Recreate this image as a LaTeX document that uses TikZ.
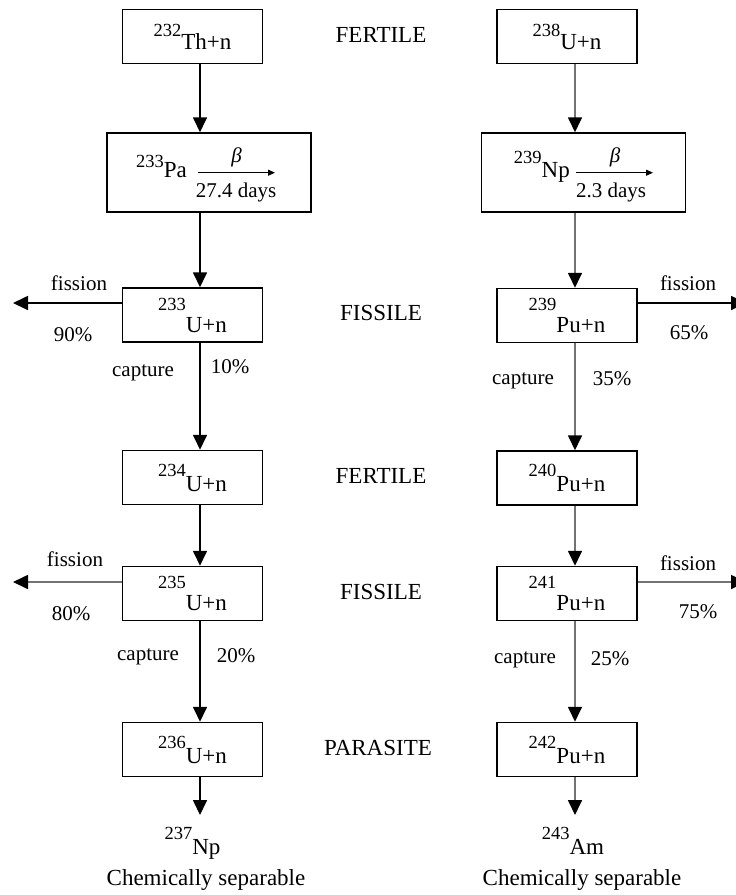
\documentclass[tikz,border=0pt]{standalone}
\usepackage{fontspec}
\setmainfont{Liberation Serif}
\usetikzlibrary{arrows.meta, positioning, calc}
\newcommand{\bigfont}{\fontsize{23}{27}\selectfont}
\newcommand{\notefont}{\fontsize{21}{25}\selectfont}
\newcommand{\iso}[3][13pt]{\raisebox{#1}{\fontsize{18.5}{20}\selectfont #2}#3}
\tikzset{
  nuclide/.style={draw=black, line width=1.5pt, minimum width=140pt, minimum height=54pt, inner sep=0pt, font=\bigfont},
  decaybox/.style={nuclide, minimum width=204pt, minimum height=79pt},
  arrow/.style={-{Triangle[length=15pt, width=14pt, color=black]}, line width=1.7pt},
  faint/.style={draw=black!55},
  betaarrow/.style={-{Triangle[length=7pt, width=6pt]}, line width=1pt},
  role/.style={font=\bigfont, inner sep=0pt},
  note/.style={font=\notefont, inner sep=0pt},
}
\begin{document}
\begin{tikzpicture}[x=1pt, y=-1pt]
  \useasboundingbox (0,0) rectangle (736,895);
  % thorium chain
  \node[nuclide] (th) at (192.5,36.5) {\iso{232}{Th+n}};
  \node[decaybox] (pa) at (209,172.5) {};
  \node[nuclide] (u233) at (192.5,315) {\iso[22pt]{233}{U+n}};
  \node[nuclide] (u234) at (192.5,477.5) {\iso[15pt]{234}{U+n}};
  \node[nuclide] (u235) at (192.5,593.5) {\iso[22pt]{235}{U+n}};
  \node[nuclide] (u236) at (192.5,749.5) {\iso[15pt]{236}{U+n}};
  % uranium chain
  \node[nuclide] (u238) at (567,36.5) {\iso{238}{U+n}};
  \node[decaybox] (np) at (583.5,172.5) {};
  \node[nuclide] (pu239) at (567,315.5) {\iso[22pt]{239}{Pu+n}};
  \node[nuclide] (pu240) at (567,478) {\iso[15pt]{240}{Pu+n}};
  \node[nuclide] (pu241) at (567,593.5) {\iso[22pt]{241}{Pu+n}};
  \node[nuclide] (pu242) at (567,749.5) {\iso[15pt]{242}{Pu+n}};
  % beta decays inside the boxes
  \node[anchor=base east, inner sep=0pt, font=\bigfont] (pa-lbl) at (187,177) {\iso[10pt]{233}{Pa}};
  \coordinate (pa-a) at (198,172.7);
  \coordinate (pa-b) at (275,172.7);
  \draw[betaarrow] (pa-a) -- (pa-b);
  \node[note] (pa-beta) at (236.5,157) {\textit{β}};
  \node[note, anchor=base] (pa-days) at (236,197) {27.4 days};
  \node[anchor=base east, inner sep=0pt, font=\bigfont] (np-lbl) at (570,177) {\iso[14pt]{239}{Np}};
  \coordinate (np-a) at (576,172.7);
  \coordinate (np-b) at (653,172.7);
  \draw[betaarrow] (np-a) -- (np-b);
  \node[note] (np-beta) at (615,157) {\textit{β}};
  \node[note, anchor=base] (np-days) at (611,197) {2.3 days};
  % roles
  \node[role] (fert1) at (381,35) {FERTILE};
  \node[role] (fiss1) at (381,313) {FISSILE};
  \node[role] (fert2) at (381,476) {FERTILE};
  \node[role] (fiss2) at (381,591.5) {FISSILE};
  \node[role] (para) at (378,748) {PARASITE};
  % vertical arrows
  \coordinate (lcol) at (200,0);
  \coordinate (rcol) at (575,0);
  \foreach \a/\b in {th/pa, pa/u233, u233/u234, u234/u235, u235/u236}
    \draw[arrow] (\a.south -| lcol) -- (\b.north -| lcol);
  \foreach \a/\b in {u238/np, np/pu239, pu239/pu240, pu240/pu241, pu241/pu242}
    \draw[arrow, faint] (\a.south -| rcol) -- (\b.north -| rcol);
  \coordinate (lend) at (200,815);
  \coordinate (rend) at (575,815);
  \draw[arrow] (u236.south -| lcol) -- (lend);
  \draw[arrow, faint] (pu242.south -| rcol) -- (rend);
  % fission branches
  \coordinate (fl1) at (13,303);
  \coordinate (fl2) at (13,582);
  \coordinate (fr1) at (746,303);
  \coordinate (fr2) at (746,582);
  \draw[arrow] (u233.west |- fl1) -- (fl1);
  \draw[arrow, faint] (u235.west |- fl2) -- (fl2);
  \draw[arrow] (pu239.east |- fr1) -- (fr1);
  \draw[arrow, faint] (pu241.east |- fr2) -- (fr2);
  % branch labels
  \node[note] (fl1-t) at (79,283) {fission};
  \node[note] (fl1-p) at (73,335) {90\%};
  \node[note] (cl1-t) at (143,373) {capture};
  \node[note] (cl1-p) at (230,367) {10\%};
  \node[note] (fr1-t) at (688,283) {fission};
  \node[note] (fr1-p) at (689,333) {65\%};
  \node[note] (cr1-t) at (523,381) {capture};
  \node[note] (cr1-p) at (612,379) {35\%};
  \node[note] (fl2-t) at (75,559) {fission};
  \node[note] (fl2-p) at (71,614) {80\%};
  \node[note] (cl2-t) at (148,657) {capture};
  \node[note] (cl2-p) at (236,656) {20\%};
  \node[note] (fr2-t) at (688,563) {fission};
  \node[note] (fr2-p) at (698,612) {75\%};
  \node[note] (cr2-t) at (525,660) {capture};
  \node[note] (cr2-p) at (610,659) {25\%};
  % end products
  \node[anchor=base, inner sep=0pt, font=\bigfont] (np237) at (192.5,854) {\iso[15pt]{237}{Np}};
  \node[anchor=base, inner sep=0pt, font=\bigfont] (sepl) at (206,885) {Chemically separable};
  \node[anchor=base, inner sep=0pt, font=\bigfont] (am243) at (573,854) {\iso[15pt]{243}{Am}};
  \node[anchor=base, inner sep=0pt, font=\bigfont] (sepr) at (582,885) {Chemically separable};
\end{tikzpicture}
\end{document}
